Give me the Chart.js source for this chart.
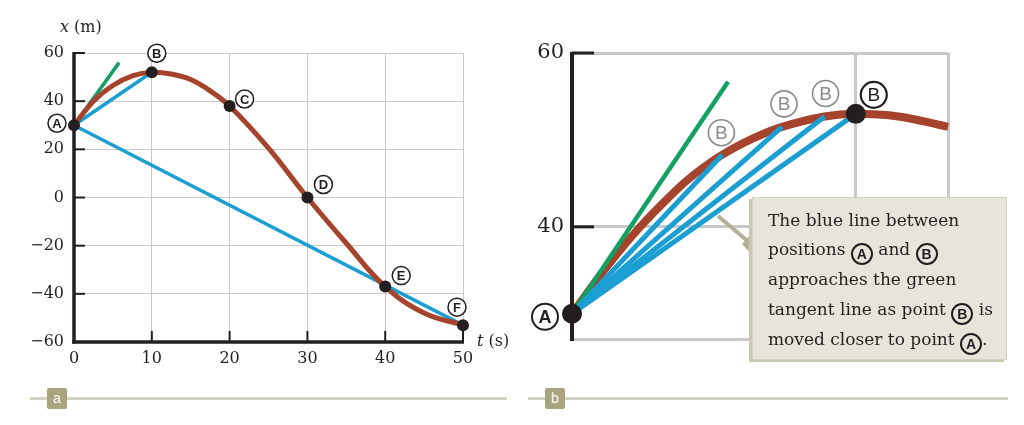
<!DOCTYPE html>
<html>
<head>
<meta charset="utf-8">
<script src="https://cdn.jsdelivr.net/npm/chart.js@4.4.1/dist/chart.umd.min.js"></script>
<style>
  body { margin:0; background:#fff; width:1024px; height:425px; position:relative; overflow:hidden; }
  .panel { position:absolute; top:0; height:380px; }
  #panelA { left:0; width:520px; }
  #panelB { left:520px; width:504px; }
  .note {
    position:absolute; left:752px; top:197px; width:255px; height:163px; box-sizing:border-box;
    background:#e7e5da; border:1px solid #d3d1c0; box-shadow:-3px 2px 0 #cbc8b2;
    padding:8px 0 0 15px; font:17px/29.3px "DejaVu Serif", serif; color:#231f20; white-space:nowrap;
  }
  .c {
    display:inline-block; box-sizing:border-box; width:22px; height:22px; border:2px solid #231f20; border-radius:50%;
    font:bold 14px/18px "Liberation Sans", sans-serif; text-align:center; vertical-align:-4px;
  }
  .bar { position:absolute; top:397px; height:3px; background:#d4d3c2; }
  .tag {
    position:absolute; top:388px; width:20px; height:21px; background:#a8a47d; border-radius:2px;
    color:#fff; font:14px/20px "Liberation Sans", sans-serif; text-align:center;
  }
  svg { position:absolute; left:0; top:0; }
</style>
</head>
<body>
<div class="panel" id="panelA"><canvas id="chartA"></canvas></div>
<div class="panel" id="panelB"><canvas id="chartB"></canvas></div>

<svg width="1024" height="425">
  <line x1="718" y1="216" x2="750" y2="243" stroke="#b4b194" stroke-width="4"/>
  <polygon points="742,244 754,231 754,257" fill="#b4b194"/>
</svg>
<div class="note">The blue line between<br>positions <span class="c">A</span> and <span class="c">B</span><br>approaches the green<br>tangent line as point <span class="c">B</span> is<br>moved closer to point <span class="c">A</span>.</div>

<div class="bar" style="left:30px;width:477px"></div>
<div class="tag" style="left:47px">a</div>
<div class="bar" style="left:528px;width:480px"></div>
<div class="tag" style="left:545px">b</div>

<script>
// panel a: position-time graph
const pointNames = ['A', 'B', 'C', 'D', 'E', 'F'];
const pointT = [0, 10, 20, 30, 40, 50];
const pointX = [30, 52, 38, 0, -37, -53];
const curveT = [0, 2.5, 5, 7.5, 10, 12.5, 15, 17.5, 20, 25, 30, 35, 40, 45, 50];
const curveX = [30, 40, 46.5, 50.5, 52, 51.3, 49, 44.3, 38, 20.5, 0, -19, -37, -48, -53];
const tangentT = [0, 5.8];
const tangentX = [30, 56];
const xTicks = [0, 10, 20, 30, 40, 50];
const yTicks = [-60, -40, -20, 0, 20, 40, 60];

// panel b: close-up near A
const zoomCurveT = [0, 1.2, 2.4, 3.6, 4.3, 5.3, 6.4, 7.4, 8.9, 10, 11.5, 13.25];
const zoomCurveX = [30, 35.3, 40, 44, 46, 48.3, 50.2, 51.5, 52.7, 53, 52.7, 51.5];
const zoomBT = [5.3, 7.4, 8.9, 10];
const zoomBX = [48.3, 51.5, 52.7, 53];
const zoomTangentT = [0, 5.5];
const zoomTangentX = [30, 56.7];
const zoomYTicks = [40, 60];
const zoomXGrid = [10];

const BROWN = '#a5432c', BLUE = '#1b9fd2', GREEN = '#14a062', INK = '#231f20', GRID = '#c9c9c9';
const pts = (ts, xs) => ts.map((t, i) => ({x: t, y: xs[i]}));

// label offsets in px from each point
const offA = [[-17, -2], [5, -19], [15, -7], [16, -13], [16, -11], [-6, -18]];
const offB = [[-1, -22], [2, -23], [1, -23], [18, -19]];

const decor = {
  id: 'decor',
  beforeDatasetsDraw(chart, args, o) {
    const {ctx, chartArea: a, scales: {x, y}} = chart;
    const line = (x1, y1, x2, y2) => { ctx.beginPath(); ctx.moveTo(x1, y1); ctx.lineTo(x2, y2); ctx.stroke(); };
    ctx.save();
    ctx.strokeStyle = INK;
    ctx.lineWidth = o.tickWidth;
    o.yTicks.forEach(v => { const py = y.getPixelForValue(v); line(a.left, py, a.left + o.tickLen, py); });
    (o.xTicks || []).forEach(v => { const px = x.getPixelForValue(v); line(px, a.bottom, px, a.bottom - o.tickLen); });
    ctx.lineWidth = o.axisWidth;
    line(a.left, a.bottom + o.axisWidth / 2, a.left, a.top - 1);
    if (o.xAxis) line(a.left - o.axisWidth / 2, a.bottom, a.right + 1, a.bottom);
    ctx.restore();
  },
  afterDatasetsDraw(chart, args, o) {
    const {ctx, scales: {x, y}} = chart;
    ctx.save();
    o.marks.forEach(m => {
      const cx = x.getPixelForValue(m.t) + m.dx, cy = y.getPixelForValue(m.v) + m.dy;
      ctx.beginPath(); ctx.arc(cx, cy, m.r, 0, Math.PI * 2);
      ctx.fillStyle = '#fff'; ctx.fill();
      ctx.lineWidth = m.lw; ctx.strokeStyle = m.color; ctx.stroke();
      ctx.fillStyle = m.color; ctx.font = m.font; ctx.textAlign = 'center'; ctx.textBaseline = 'middle';
      ctx.fillText(m.text, cx, cy + 1);
    });
    (o.titles || []).forEach(tt => {
      let px = tt.x;
      ctx.fillStyle = INK; ctx.textAlign = 'left'; ctx.textBaseline = 'middle';
      tt.parts.forEach(p => { ctx.font = p.font; ctx.fillText(p.s, px, tt.y); px += ctx.measureText(p.s).width; });
    });
    ctx.restore();
  }
};

const lineSet = (data, color, width, order) => ({
  data, showLine: true, borderColor: color, borderWidth: width, pointRadius: 0, order, clip: false, borderCapStyle: 'butt'
});
const tickFmt = v => v < 0 ? '\u2212' + Math.abs(v) : String(v);

new Chart(document.getElementById('chartA'), {
  type: 'scatter',
  data: {
    datasets: [
      {data: pts(pointT, pointX), pointRadius: 6, pointBackgroundColor: INK, pointBorderWidth: 0, order: 0, clip: false},
      Object.assign(lineSet(pts(curveT, curveX), BROWN, 5, 1), {tension: 0.4}),
      lineSet(pts([pointT[0], pointT[1]], [pointX[0], pointX[1]]), BLUE, 3.5, 2),
      lineSet(pts([pointT[0], pointT[5]], [pointX[0], pointX[5]]), BLUE, 3.5, 2),
      lineSet(pts(tangentT, tangentX), GREEN, 3.5, 2)
    ]
  },
  options: {
    responsive: true, maintainAspectRatio: false, animation: false,
    layout: {padding: {left: 0, top: 53, right: 57, bottom: 0}},
    plugins: {
      legend: {display: false}, tooltip: {enabled: false},
      decor: {
        tickWidth: 2, tickLen: 11, axisWidth: 3.5, xAxis: true, yTicks, xTicks: xTicks.slice(1),
        marks: pointNames.map((n, i) => ({t: pointT[i], v: pointX[i], dx: offA[i][0], dy: offA[i][1], text: n,
          r: 9, lw: 1.5, color: INK, font: 'bold 13px "Liberation Sans", sans-serif'})),
        titles: [
          {x: 60, y: 28, parts: [{s: 'x', font: 'italic 16px "DejaVu Serif", serif'}, {s: ' (m)', font: '16px "DejaVu Serif", serif'}]},
          {x: 477, y: 342, parts: [{s: 't', font: 'italic 16px "DejaVu Serif", serif'}, {s: ' (s)', font: '16px "DejaVu Serif", serif'}]}
        ]
      }
    },
    scales: {
      x: {
        type: 'linear', min: 0, max: 50,
        afterBuildTicks: s => { s.ticks = xTicks.map(v => ({value: v})); },
        afterFit: s => { s.height = 38; },
        grid: {color: GRID, lineWidth: 1, drawTicks: false}, border: {display: false},
        ticks: {padding: 7, color: INK, font: {family: '"DejaVu Serif", serif', size: 16}, maxRotation: 0, autoSkip: false}
      },
      y: {
        type: 'linear', min: -60, max: 60,
        afterBuildTicks: s => { s.ticks = yTicks.map(v => ({value: v})); },
        afterFit: s => { s.width = 74; },
        grid: {color: GRID, lineWidth: 1, drawTicks: false}, border: {display: false},
        ticks: {padding: 10, color: INK, font: {family: '"DejaVu Serif", serif', size: 16}, callback: tickFmt, autoSkip: false}
      }
    }
  },
  plugins: [decor]
});

const zoomB = pts(zoomBT, zoomBX);
new Chart(document.getElementById('chartB'), {
  type: 'scatter',
  data: {
    datasets: [
      {data: [{x: zoomCurveT[0], y: zoomCurveX[0]}, zoomB[3]], pointRadius: 10, pointBackgroundColor: INK, pointBorderWidth: 0, order: 0, clip: false},
      ...zoomB.map(p => lineSet([{x: zoomCurveT[0], y: zoomCurveX[0]}, p], BLUE, 5, 1)),
      lineSet(pts(zoomTangentT, zoomTangentX), GREEN, 4.5, 2),
      Object.assign(lineSet(pts(zoomCurveT, zoomCurveX), BROWN, 8, 3), {tension: 0.4})
    ]
  },
  options: {
    responsive: true, maintainAspectRatio: false, animation: false,
    layout: {padding: {left: 0, top: 53, right: 76, bottom: 0}},
    plugins: {
      legend: {display: false}, tooltip: {enabled: false},
      decor: {
        tickWidth: 3, tickLen: 22, axisWidth: 4, xAxis: false, yTicks: zoomYTicks,
        marks: [
          {t: zoomCurveT[0], v: zoomCurveX[0], dx: -27, dy: 3, text: 'A', r: 13, lw: 2, color: INK, font: 'bold 18px "Liberation Sans", sans-serif'},
          ...zoomB.map((p, i) => ({t: p.x, v: p.y, dx: offB[i][0], dy: offB[i][1], text: 'B', r: 13,
            lw: i < 3 ? 1.6 : 2.2, color: i < 3 ? '#8a8a8a' : INK, font: '19px "Liberation Sans", sans-serif'}))
        ]
      }
    },
    scales: {
      x: {
        type: 'linear', min: 0, max: 13.25,
        afterBuildTicks: s => { s.ticks = [0, ...zoomXGrid, 13.25].map(v => ({value: v})); },
        afterFit: s => { s.height = 41; },
        grid: {color: GRID, lineWidth: 3, drawTicks: false}, border: {display: false},
        ticks: {display: false}
      },
      y: {
        type: 'linear', min: 27.1, max: 60,
        afterBuildTicks: s => { s.ticks = [27.1, ...zoomYTicks].map(v => ({value: v})); },
        afterFit: s => { s.width = 52; },
        grid: {color: GRID, lineWidth: 3, drawTicks: false}, border: {display: false},
        ticks: {padding: 8, color: INK, font: {family: '"DejaVu Serif", serif', size: 21},
          callback: v => zoomYTicks.includes(v) ? String(v) : '', autoSkip: false}
      }
    }
  },
  plugins: [decor]
});
</script>
</body>
</html>
